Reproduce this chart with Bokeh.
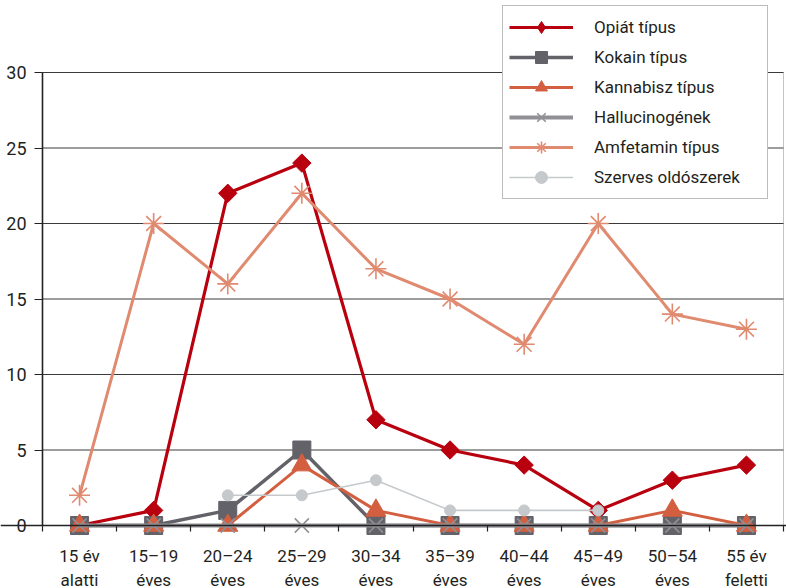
import numpy as np
from bokeh.plotting import figure
from bokeh.models import (Range1d, LinearAxis, FixedTicker, Legend,
                          LegendItem, BoxAnnotation)
from bokeh.embed import file_html
from bokeh.resources import INLINE

# Age groups (x categories) and number of cases per drug type
age_groups = ["15 év\nalatti", "15–19\néves", "20–24\néves", "25–29\néves",
              "30–34\néves", "35–39\néves", "40–44\néves", "45–49\néves",
              "50–54\néves", "55 év\nfeletti"]
opiat = [0, 1, 22, 24, 7, 5, 4, 1, 3, 4]
kokain = [0, 0, 1, 5, 0, 0, 0, 0, 0, 0]
kannabisz = [0, 0, 0, 4, 1, 0, 0, 0, 1, 0]
hallucinogen = [0, 0, 0, 0, 0, 0, 0, 0, 0, 0]
amfetamin = [2, 20, 16, 22, 17, 15, 12, 20, 14, 13]
szerves = [np.nan, np.nan, 2, 2, 3, 1, 1, 1, np.nan, np.nan]
y_ticks = [0, 5, 10, 15, 20, 25, 30]

FONT = "Roboto"
TEXT = "#231f20"
AXIS = "#222222"
GRID = "#3a3a3a"

n = len(age_groups)
xs = np.arange(n) + 0.5          # category centres
bounds_x = list(range(n + 1))    # category boundaries

W, H = 786, 588
# frame covers the whole canvas; axes are pinned to the data origin
px_x = 741 / n
px_y = 453 / 30
p = figure(width=W, height=H, output_backend="svg", toolbar_location=None,
           x_range=Range1d(-42 / px_x, n + 3 / px_x),
           y_range=Range1d(-(H - 525) / px_y, 30 + 72 / px_y),
           x_axis_type=None, y_axis_type=None,
           min_border_left=0, min_border_right=0,
           min_border_top=0, min_border_bottom=0)
p.outline_line_color = None
p.background_fill_color = "white"
p.border_fill_color = "white"

# horizontal grid lines, only across the plot area
grid_y = y_ticks[1:]
p.segment(x0=[0] * len(grid_y), x1=[n] * len(grid_y), y0=grid_y, y1=grid_y,
          line_color=GRID, line_width=1, level="underlay")

# plot-area border (right edge)
p.add_layout(BoxAnnotation(left=0, right=n, bottom=0, top=30, fill_alpha=0,
                           line_color=GRID, line_width=1, level="underlay"))

# y axis
yaxis = LinearAxis(ticker=FixedTicker(ticks=y_ticks), bounds=(0, 30),
                   fixed_location=0)
yaxis.axis_line_color = AXIS
yaxis.axis_line_width = 1.6
yaxis.major_tick_line_color = AXIS
yaxis.major_tick_out = 8
yaxis.major_tick_in = 0
yaxis.minor_tick_line_color = None
yaxis.major_label_standoff = 8
yaxis.major_label_text_font = FONT
yaxis.major_label_text_font_size = "18px"
yaxis.major_label_text_color = TEXT
p.add_layout(yaxis, "left")

# x axis: labels at category centres, ticks at boundaries
xaxis = LinearAxis(ticker=FixedTicker(ticks=list(xs), minor_ticks=bounds_x),
                   fixed_location=0)
xaxis.major_label_overrides = {float(x): lab for x, lab in zip(xs, age_groups)}
xaxis.axis_line_color = AXIS
xaxis.axis_line_width = 1.6
xaxis.major_tick_out = 0
xaxis.major_tick_in = 0
xaxis.major_tick_line_color = None
xaxis.minor_tick_out = 6
xaxis.minor_tick_in = 0
xaxis.minor_tick_line_color = AXIS
xaxis.minor_tick_line_width = 1.2
xaxis.major_label_standoff = 14
xaxis.major_label_text_font = FONT
xaxis.major_label_text_font_size = "17px"
xaxis.major_label_text_color = TEXT
xaxis.major_label_text_line_height = 1.2
p.add_layout(xaxis, "below")

series = [
    ("Opiát típus", opiat, "#b8000f", 3.2,
     dict(marker="square", size=13, angle=np.pi / 4, fill_color="#b8000f", line_color="#b8000f"),
     dict(marker="diamond", size=14, fill_color="#b8000f", line_color="#b8000f")),
    ("Kokain típus", kokain, "#626268", 3.5,
     dict(marker="square", size=18, fill_color="#626268", line_color="#626268"), None),
    ("Kannabisz típus", kannabisz, "#d35f40", 3.0,
     dict(marker="triangle", size=20, fill_color="#d35f40", line_color="#d35f40"), None),
    ("Hallucinogének", hallucinogen, "#909096", 4.0,
     dict(marker="x", size=20, line_color="#909096", line_width=1.6), None),
    ("Amfetamin típus", amfetamin, "#e08a70", 3.0,
     dict(marker="asterisk", size=21, line_color="#e08a70", line_width=1.6), None),
    ("Szerves oldószerek", szerves, "#c6c9cc", 1.6,
     dict(marker="circle", size=11, fill_color="#c6c9cc", line_color="#c6c9cc"), None),
]

items = []
for name, vals, color, lw, mk, legend_mk in series:
    r_line = p.line(xs, vals, line_color=color, line_width=lw)
    r_mark = p.scatter(xs, vals, **mk)
    if legend_mk is not None:
        # key-only symbol (drawn unrotated in the legend); its one point is empty
        r_key = p.scatter(x=[np.nan], y=[np.nan], **legend_mk)
        items.append(LegendItem(label=name, renderers=[r_line, r_key]))
    else:
        items.append(LegendItem(label=name, renderers=[r_line, r_mark]))

legend = Legend(items=items, location=(502, H - 199))
legend.padding = 6
legend.spacing = 0
legend.glyph_width = 64
legend.glyph_height = 30
legend.label_height = 30
legend.label_standoff = 21
legend.label_width = 167
legend.margin = 0
legend.border_line_color = "#7a7a7a"
legend.border_line_width = 1.5
legend.background_fill_color = "white"
legend.background_fill_alpha = 1
legend.label_text_font = FONT
legend.label_text_font_size = "17px"
legend.label_text_color = TEXT
p.add_layout(legend, "center")

open("out.html", "w").write(file_html(p, INLINE))
